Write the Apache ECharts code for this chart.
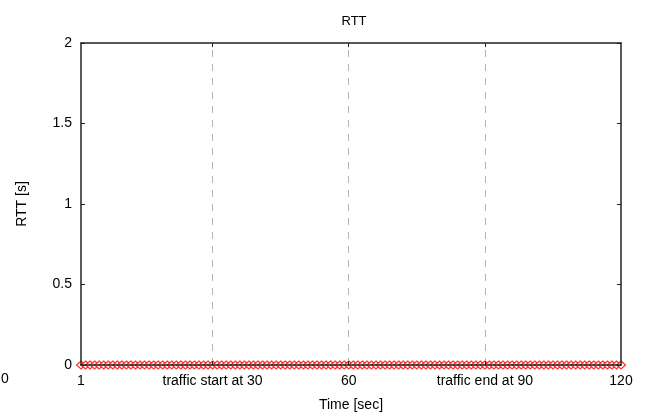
<!DOCTYPE html>
<html>
<head>
<meta charset="utf-8">
<script src="https://cdn.jsdelivr.net/npm/echarts@6/dist/echarts.min.js"></script>
<style>html,body{margin:0;padding:0;background:#fff}#c{width:650px;height:419px}</style>
</head>
<body>
<div id="c"></div>
<script>
var times = [1,2,3,4,5,6,7,8,9,10,11,12,13,14,15,16,17,18,19,20,21,22,23,24,25,26,27,28,29,30,
31,32,33,34,35,36,37,38,39,40,41,42,43,44,45,46,47,48,49,50,51,52,53,54,55,56,57,58,59,60,
61,62,63,64,65,66,67,68,69,70,71,72,73,74,75,76,77,78,79,80,81,82,83,84,85,86,87,88,89,90,
91,92,93,94,95,96,97,98,99,100,101,102,103,104,105,106,107,108,109,110,111,112,113,114,115,116,117,118,119,120];
var rtt = [0,0,0,0,0,0,0,0,0,0,0,0,0,0,0,0,0,0,0,0,0,0,0,0,0,0,0,0,0,0,
0,0,0,0,0,0,0,0,0,0,0,0,0,0,0,0,0,0,0,0,0,0,0,0,0,0,0,0,0,0,
0,0,0,0,0,0,0,0,0,0,0,0,0,0,0,0,0,0,0,0,0,0,0,0,0,0,0,0,0,0,
0,0,0,0,0,0,0,0,0,0,0,0,0,0,0,0,0,0,0,0,0,0,0,0,0,0,0,0,0,0];
var xTickValues = [1, 30, 60, 90, 120];
var xTickLabels = ['1', 'traffic start at 30', '60', 'traffic end at 90', '120'];
var markerTimes = [30, 60, 90];
var yTicks = [0, 0.5, 1, 1.5, 2];

var font = 'Liberation Sans, Arial, sans-serif';
var chart = echarts.init(document.getElementById('c'));
var pts = times.map(function (t, i) { return [t, rtt[i]]; });
var axisLine = { show: true, onZero: false, lineStyle: { color: '#222', width: 1.5 } };
var tick = { show: true, inside: true, length: 4, lineStyle: { color: '#222', width: 1 } };

chart.setOption({
  animation: false,
  backgroundColor: '#fff',
  title: {
    text: 'RTT', left: 349, top: 10, textAlign: 'center',
    textStyle: { fontFamily: font, fontSize: 13, fontWeight: 'normal', color: '#000' }
  },
  grid: { left: 81, right: 29, top: 43, bottom: 54, containLabel: false },
  xAxis: [{
    type: 'value', position: 'bottom', min: 1, max: 120, z: 5,
    axisLine: axisLine,
    axisTick: Object.assign({}, tick, { customValues: markerTimes }),
    splitLine: { show: false },
    axisLabel: {
      customValues: xTickValues, margin: 9,
      fontFamily: font, fontSize: 14, color: '#000',
      formatter: function (v) { var i = xTickValues.indexOf(v); return i >= 0 ? xTickLabels[i] : ''; }
    },
    name: 'Time [sec]', nameLocation: 'middle', nameGap: 33,
    nameTextStyle: { fontFamily: font, fontSize: 14, color: '#000' }
  }, {
    type: 'value', position: 'top', min: 1, max: 120, z: 5,
    axisLine: axisLine,
    axisTick: Object.assign({}, tick, { customValues: markerTimes }),
    axisLabel: { show: false }, splitLine: { show: false }
  }],
  yAxis: [{
    type: 'value', position: 'left', min: 0, max: 2, interval: 0.5, z: 5,
    axisLine: axisLine, axisTick: tick, splitLine: { show: false },
    axisLabel: { margin: 9, fontFamily: font, fontSize: 14, color: '#000',
      formatter: function (v) { return yTicks.indexOf(v) >= 0 ? String(v) : ''; } },
    name: 'RTT [s]', nameLocation: 'middle', nameGap: 52, nameRotate: 90,
    nameTextStyle: { fontFamily: font, fontSize: 14, color: '#000' }
  }, {
    type: 'value', position: 'right', min: 0, max: 2, interval: 0.5, z: 5,
    axisLine: axisLine, axisTick: tick, axisLabel: { show: false }, splitLine: { show: false }
  }],
  graphic: [{
    type: 'text', left: 1, top: 372,
    style: { text: '0', font: '14px ' + font, fill: '#000' }
  }],
  series: [{
    type: 'scatter', xAxisIndex: 0, yAxisIndex: 0, data: pts, clip: false,
    symbol: 'diamond', symbolSize: [9, 8],
    itemStyle: { color: '#fff', borderColor: '#f00', borderWidth: 1.2 },
    markLine: {
      silent: true, symbol: 'none', label: { show: false },
      lineStyle: { color: '#b4b4b4', type: [7, 7], width: 1 },
      data: markerTimes.map(function (t) { return { xAxis: t }; })
    },
    z: 2
  }]
});
</script>
</body>
</html>
